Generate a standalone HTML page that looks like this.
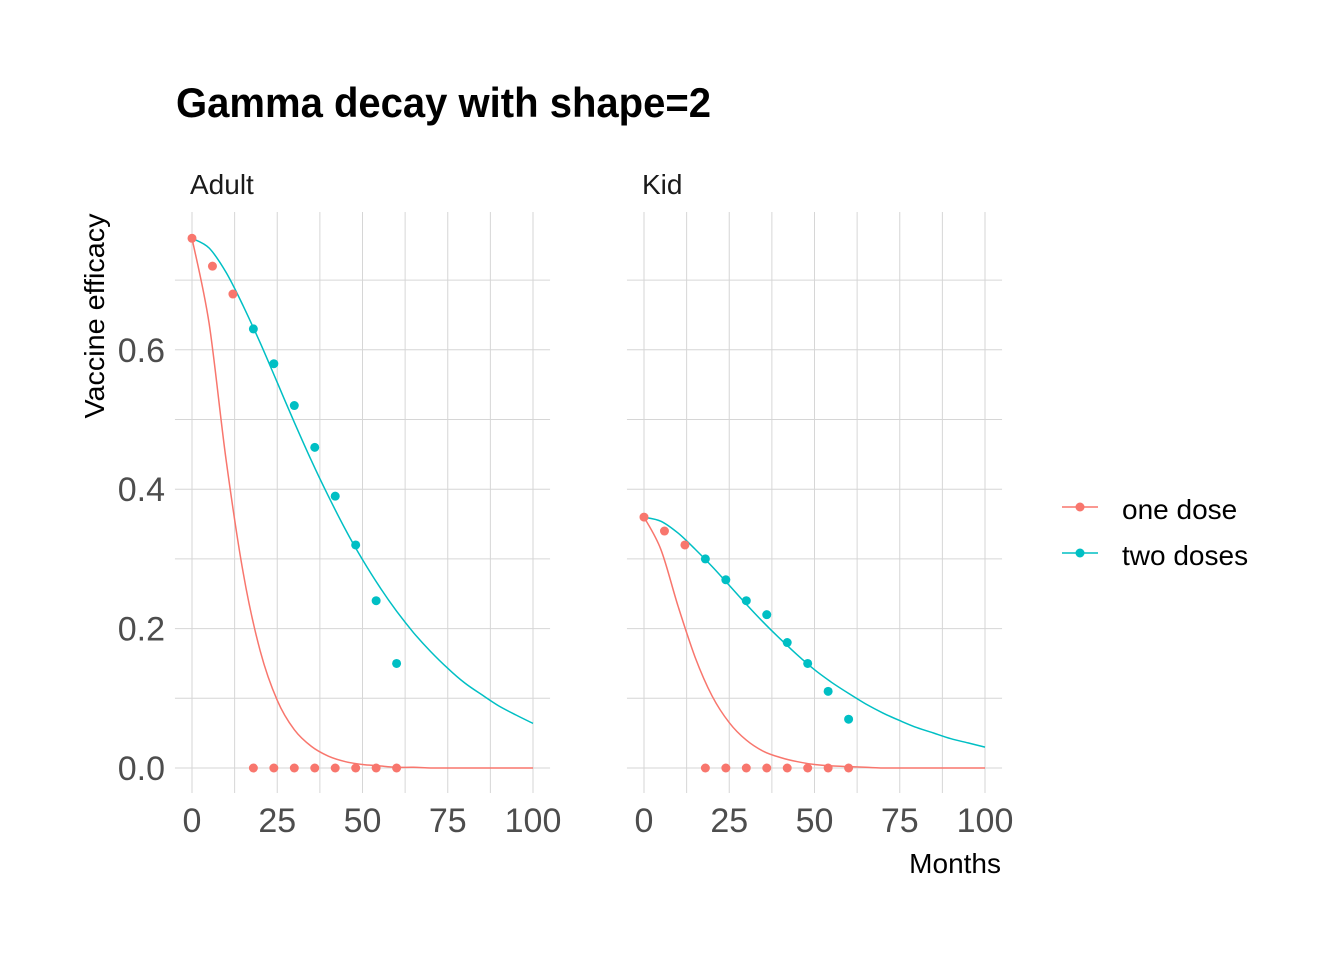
<!DOCTYPE html>
<html><head><meta charset="utf-8"><style>
html,body{margin:0;padding:0;background:#fff}
svg{display:block;font-family:"Liberation Sans",sans-serif}
</style></head><body>
<svg id="chart" width="1344" height="960" viewBox="0 0 1344 960">
<text x="176" y="117" font-size="42" font-weight="bold" fill="#000" textLength="535" lengthAdjust="spacingAndGlyphs">Gamma decay with shape=2</text>
<text x="190" y="194" font-size="28" fill="#1a1a1a">Adult</text>
<text x="642" y="194" font-size="28" fill="#1a1a1a">Kid</text>
<text transform="translate(104,316) rotate(-90)" text-anchor="middle" font-size="28" fill="#000" textLength="205" lengthAdjust="spacingAndGlyphs">Vaccine efficacy</text>
<text x="1001" y="873" text-anchor="end" font-size="28" fill="#000">Months</text>
<g id="panels"></g>
<g>
 <g>
  <line x1="1062" y1="507" x2="1098" y2="507" stroke="#F8766D" stroke-width="1.5"/>
  <circle cx="1080" cy="507" r="4.5" fill="#F8766D"/>
  <text x="1122" y="519" font-size="28" fill="#000">one dose</text>
 </g>
 <g>
  <line x1="1062" y1="553" x2="1098" y2="553" stroke="#00BFC4" stroke-width="1.5"/>
  <circle cx="1080" cy="553" r="4.5" fill="#00BFC4"/>
  <text x="1122" y="565" font-size="28" fill="#000">two doses</text>
 </g>
</g>
</svg>
<script>
const lineT = [0,5,10,15,20,25,30,35,40,45,50,55,60,65,70,75,80,85,90,95,100];
const adultOneLine = [0.76,0.638,0.442,0.280,0.168,0.097,0.055,0.031,0.017,0.009,0.005,0.003,0.001,0.001,0,0,0,0,0,0,0];
const adultTwoLine = [0.76,0.746,0.711,0.663,0.610,0.553,0.496,0.441,0.390,0.342,0.299,0.260,0.225,0.194,0.167,0.143,0.122,0.105,0.089,0.076,0.064];
const kidOneLine = [0.36,0.313,0.232,0.159,0.103,0.065,0.040,0.024,0.015,0.009,0.005,0.003,0.002,0.001,0,0,0,0,0,0,0];
const kidTwoLine = [0.36,0.354,0.337,0.314,0.289,0.262,0.235,0.209,0.185,0.162,0.141,0.123,0.107,0.092,0.079,0.068,0.058,0.050,0.042,0.036,0.030];
const pointT = [0,6,12,18,24,30,36,42,48,54,60];
const adultOnePts = [0.76,0.72,0.68,0,0,0,0,0,0,0,0];
const adultTwoPts = [null,null,null,0.63,0.58,0.52,0.46,0.39,0.32,0.24,0.15];
const kidOnePts = [0.36,0.34,0.32,0,0,0,0,0,0,0,0];
const kidTwoPts = [null,null,null,0.30,0.27,0.24,0.22,0.18,0.15,0.11,0.07];
const xTicks = [0,25,50,75,100];
const yTicks = [0,0.2,0.4,0.6];
const yTickLabels = ["0.0","0.2","0.4","0.6"];

const NS="http://www.w3.org/2000/svg";
const root=document.getElementById('panels');
const y=v=>768-v*697;
function mk(tag,attrs,parent){const e=document.createElementNS(NS,tag);for(const k in attrs)e.setAttribute(k,attrs[k]);parent.appendChild(e);return e;}
function smooth(pts){
 let d='M'+pts[0][0].toFixed(1)+','+pts[0][1].toFixed(1);
 for(let i=0;i<pts.length-1;i++){
  const p0=pts[Math.max(0,i-1)],p1=pts[i],p2=pts[i+1],p3=pts[Math.min(pts.length-1,i+2)];
  const c1=[p1[0]+(p2[0]-p0[0])/6,Math.min(768,p1[1]+(p2[1]-p0[1])/6)];
  const c2=[p2[0]-(p3[0]-p1[0])/6,Math.min(768,p2[1]-(p3[1]-p1[1])/6)];
  d+='C'+c1[0].toFixed(1)+','+c1[1].toFixed(1)+' '+c2[0].toFixed(1)+','+c2[1].toFixed(1)+' '+p2[0].toFixed(1)+','+p2[1].toFixed(1);
 }
 return d;
}
const panels=[
 {name:'adult',x0:192,one:adultOneLine,two:adultTwoLine,onep:adultOnePts,twop:adultTwoPts,ylabels:true},
 {name:'kid',x0:644,one:kidOneLine,two:kidTwoLine,onep:kidOnePts,twop:kidTwoPts,ylabels:false}
];
panels.forEach(p=>{
 const x=t=>p.x0+t*3.41;
 const g=mk('g',{},root);
 
 
 const L=x(-5),R=x(105),T=212,B=793;
 for(let v=0;v<=0.75;v+=0.1){
  const gl=mk('line',{x1:L,x2:R,y1:y(v),y2:y(v),stroke:'#d6d6d6','stroke-width':1},g);
  
  
 }
 for(let t=0;t<=100;t+=12.5){
  const gl=mk('line',{x1:x(t),x2:x(t),y1:T,y2:B,stroke:'#d6d6d6','stroke-width':1},g);
  
  
 }
 xTicks.forEach(t=>{
  const tx=mk('text',{x:x(t),y:832,'text-anchor':'middle','font-size':34,fill:'#4d4d4d'},g);
  tx.textContent=t;
  
  
 });
 if(p.ylabels){
  yTicks.forEach((v,i)=>{
   const tx=mk('text',{x:165,y:y(v)+12,'text-anchor':'end','font-size':34,fill:'#4d4d4d'},g);
   tx.textContent=yTickLabels[i];
   
   
  });
 }
 [[p.one,'#F8766D','one-dose'],[p.two,'#00BFC4','two-doses']].forEach(([arr,c,n])=>{
  const pts=arr.map((v,i)=>[x(lineT[i]),y(v)]);
  const pa=mk('path',{d:smooth(pts),fill:'none',stroke:c,'stroke-width':1.5},g);
  
  
 });
 [[p.onep,'#F8766D','one-dose'],[p.twop,'#00BFC4','two-doses']].forEach(([arr,c,n])=>{
  arr.forEach((v,i)=>{
   if(v===null)return;
   const ci=mk('circle',{cx:x(pointT[i]),cy:y(v),r:4.5,fill:c},g);
   
   
  });
 });
});
</script>
</body></html>
